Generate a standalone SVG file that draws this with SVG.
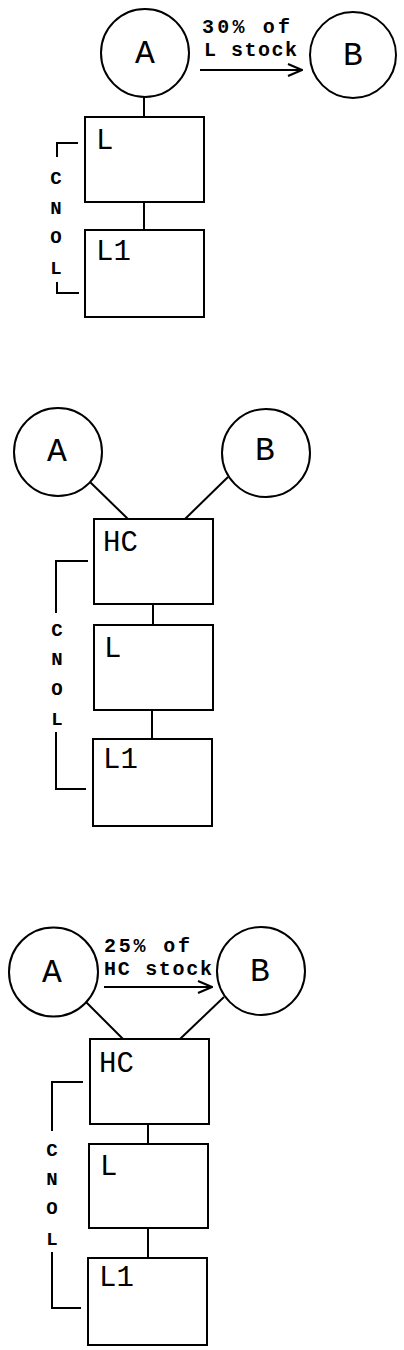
<svg xmlns="http://www.w3.org/2000/svg" width="404" height="1350" viewBox="0 0 404 1350">
<style>
.n{fill:#fff;stroke:#000;stroke-width:2}
.c{fill:none;stroke:#000;stroke-width:2}
.t{font-family:"Liberation Mono","Courier New",monospace;fill:#000}
.big{font-size:33px}
.box{font-size:29px}
.lab{font-size:20px;font-weight:bold}
.v{font-size:19px;font-weight:bold;text-anchor:middle}
.mid{text-anchor:middle}
</style>
<defs>
<marker id="ah" viewBox="0 0 16 14" refX="15" refY="7" markerWidth="16" markerHeight="14" markerUnits="userSpaceOnUse" orient="auto">
<path d="M1,1 L15,7 L1,13" fill="none" stroke="#000" stroke-width="2"/>
</marker>
</defs>
<rect width="404" height="1350" fill="#fff"/>
<g id="connectors">
<line class="c" x1="144" y1="97" x2="144" y2="117"/>
<line class="c" x1="144" y1="202" x2="144" y2="230"/>
<line class="c" x1="200" y1="70" x2="302" y2="70" marker-end="url(#ah)"/>
<polyline class="c" points="78,143 57,143 57,157"/>
<polyline class="c" points="57,282 57,293 79,293"/>
<line class="c" x1="90" y1="482" x2="128" y2="519"/>
<line class="c" x1="228" y1="477" x2="185" y2="519"/>
<line class="c" x1="153" y1="604" x2="153" y2="625"/>
<line class="c" x1="152" y1="710" x2="152" y2="739"/>
<polyline class="c" points="88,561 56,561 56,613"/>
<polyline class="c" points="56,732 56,789 86,789"/>
<line class="c" x1="86" y1="1002" x2="123" y2="1039"/>
<line class="c" x1="224" y1="997" x2="180" y2="1039"/>
<line class="c" x1="148" y1="1124" x2="148" y2="1144"/>
<line class="c" x1="148" y1="1228" x2="148" y2="1258"/>
<line class="c" x1="104" y1="987" x2="212" y2="987" marker-end="url(#ah)"/>
<polyline class="c" points="83,1082 52,1082 52,1131"/>
<polyline class="c" points="52,1252 52,1308 81,1308"/>
</g>
<g id="labels">
<text class="t lab" x="202" y="33" textLength="88">30% of</text>
<text class="t lab" x="204" y="56" textLength="93">L stock</text>
<text class="t v" x="56" y="184">C</text>
<text class="t v" x="56" y="214">N</text>
<text class="t v" x="56" y="243">O</text>
<text class="t v" x="56" y="274">L</text>
<text class="t v" x="57" y="636">C</text>
<text class="t v" x="57" y="665">N</text>
<text class="t v" x="57" y="695">O</text>
<text class="t v" x="57" y="725">L</text>
<text class="t lab" x="104" y="952" textLength="86">25% of</text>
<text class="t lab" x="104" y="975" textLength="108">HC stock</text>
<text class="t v" x="52" y="1156">C</text>
<text class="t v" x="52" y="1185">N</text>
<text class="t v" x="52" y="1214">O</text>
<text class="t v" x="52" y="1245">L</text>
</g>
<g id="p1-A"><circle class="n" cx="145" cy="53" r="44"/><text class="t big mid" x="145" y="63">A</text></g>
<g id="p1-B"><circle class="n" cx="353" cy="55" r="43"/><text class="t big mid" x="353" y="65">B</text></g>
<g id="p1-L"><rect class="n" x="85" y="117" width="119" height="85"/><text class="t box" x="96" y="149">L</text></g>
<g id="p1-L1"><rect class="n" x="85" y="230" width="119" height="87"/><text class="t box" x="96" y="260">L1</text></g>
<g id="p2-A"><circle class="n" cx="58" cy="452" r="44"/><text class="t big mid" x="57" y="461">A</text></g>
<g id="p2-B"><circle class="n" cx="266" cy="453" r="44"/><text class="t big mid" x="265" y="460">B</text></g>
<g id="p2-HC"><rect class="n" x="94" y="519" width="119" height="85"/><text class="t box" x="103" y="551">HC</text></g>
<g id="p2-L"><rect class="n" x="94" y="625" width="119" height="85"/><text class="t box" x="104" y="657">L</text></g>
<g id="p2-L1"><rect class="n" x="93" y="739" width="119" height="87"/><text class="t box" x="103" y="768">L1</text></g>
<g id="p3-A"><circle class="n" cx="53.5" cy="972" r="44.5"/><text class="t big mid" x="52" y="982">A</text></g>
<g id="p3-B"><circle class="n" cx="261" cy="971" r="44"/><text class="t big mid" x="260" y="981">B</text></g>
<g id="p3-HC"><rect class="n" x="90" y="1039" width="119" height="85"/><text class="t box" x="99" y="1072">HC</text></g>
<g id="p3-L"><rect class="n" x="89" y="1144" width="119" height="84"/><text class="t box" x="100" y="1175">L</text></g>
<g id="p3-L1"><rect class="n" x="88" y="1258" width="119" height="87"/><text class="t box" x="99" y="1286">L1</text></g>
</svg>
